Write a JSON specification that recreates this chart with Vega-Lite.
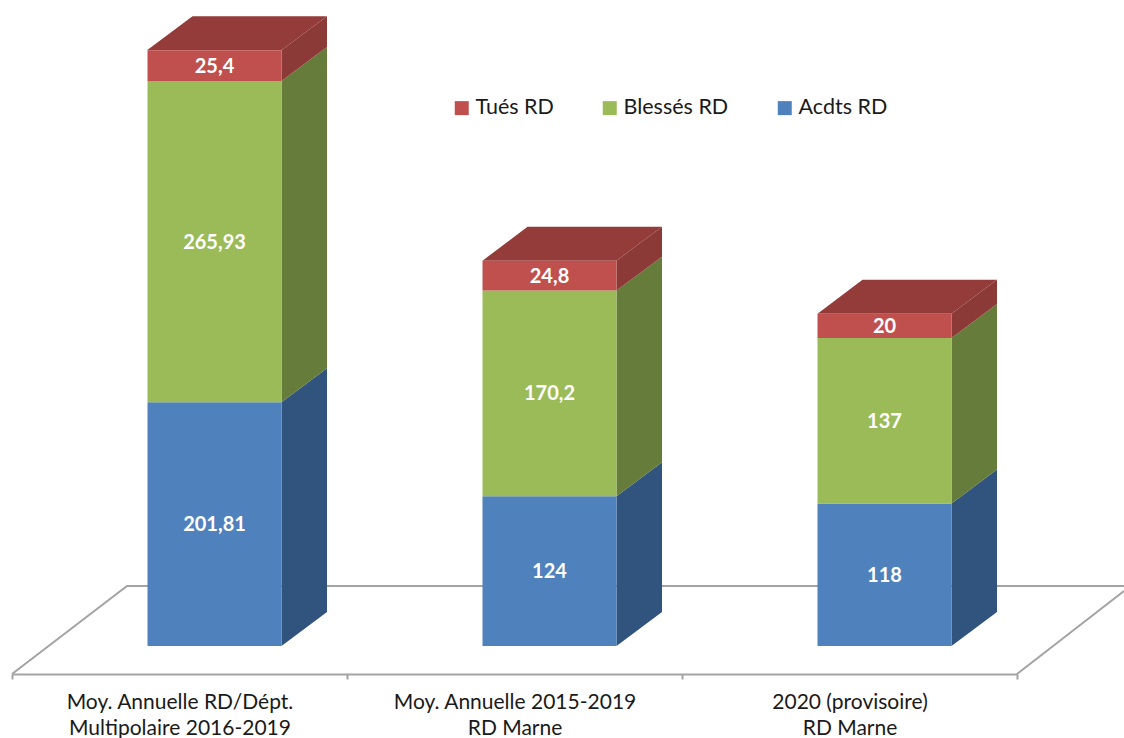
{
"$schema":"https://vega.github.io/schema/vega-lite/v6.json",
"width":1124,"height":674,
"autosize":"none",
"padding":{"left":0,"top":0,"right":0,"bottom":64},
"background":"white",
"config":{"view":{"stroke":null},"font":"Lato"},
"datasets":{
"bars":[
{"cat":"Moy. Annuelle RD/Dépt.|Multipolaire 2016-2019","serie":"Acdts RD","rang":1,"val":201.81,"txt":"201,81"},
{"cat":"Moy. Annuelle RD/Dépt.|Multipolaire 2016-2019","serie":"Blessés RD","rang":2,"val":265.93,"txt":"265,93"},
{"cat":"Moy. Annuelle RD/Dépt.|Multipolaire 2016-2019","serie":"Tués RD","rang":3,"val":25.4,"txt":"25,4"},
{"cat":"Moy. Annuelle 2015-2019|RD Marne","serie":"Acdts RD","rang":1,"val":124,"txt":"124"},
{"cat":"Moy. Annuelle 2015-2019|RD Marne","serie":"Blessés RD","rang":2,"val":170.2,"txt":"170,2"},
{"cat":"Moy. Annuelle 2015-2019|RD Marne","serie":"Tués RD","rang":3,"val":24.8,"txt":"24,8"},
{"cat":"2020 (provisoire)|RD Marne","serie":"Acdts RD","rang":1,"val":118,"txt":"118"},
{"cat":"2020 (provisoire)|RD Marne","serie":"Blessés RD","rang":2,"val":137,"txt":"137"},
{"cat":"2020 (provisoire)|RD Marne","serie":"Tués RD","rang":3,"val":20,"txt":"20"}
],
"faces":[
{"piece":"1a","face":"Acdts côté","px":281.5,"lo":0,"hi":201.81},{"piece":"1a","face":"Acdts côté","px":327,"lo":28.1,"hi":229.91},
{"piece":"1b","face":"Blessés côté","px":281.5,"lo":201.81,"hi":467.74},{"piece":"1b","face":"Blessés côté","px":327,"lo":229.91,"hi":495.84},
{"piece":"1t","face":"Tués côté","px":281.5,"lo":467.74,"hi":493.14},{"piece":"1t","face":"Tués côté","px":327,"lo":495.84,"hi":521.24},
{"piece":"1d","face":"Dessus","px":147,"lo":493.14,"hi":493.14},{"piece":"1d","face":"Dessus","px":192.5,"lo":493.14,"hi":521.24},{"piece":"1d","face":"Dessus","px":281.5,"lo":493.14,"hi":521.24},{"piece":"1d","face":"Dessus","px":327,"lo":521.24,"hi":521.24},
{"piece":"2a","face":"Acdts côté","px":616.5,"lo":0,"hi":124},{"piece":"2a","face":"Acdts côté","px":662,"lo":28.1,"hi":152.1},
{"piece":"2b","face":"Blessés côté","px":616.5,"lo":124,"hi":294.2},{"piece":"2b","face":"Blessés côté","px":662,"lo":152.1,"hi":322.3},
{"piece":"2t","face":"Tués côté","px":616.5,"lo":294.2,"hi":319},{"piece":"2t","face":"Tués côté","px":662,"lo":322.3,"hi":347.1},
{"piece":"2d","face":"Dessus","px":482.5,"lo":319,"hi":319},{"piece":"2d","face":"Dessus","px":527.5,"lo":319,"hi":347.1},{"piece":"2d","face":"Dessus","px":616.5,"lo":319,"hi":347.1},{"piece":"2d","face":"Dessus","px":662,"lo":347.1,"hi":347.1},
{"piece":"3a","face":"Acdts côté","px":951.5,"lo":0,"hi":118},{"piece":"3a","face":"Acdts côté","px":997,"lo":28.1,"hi":146.1},
{"piece":"3b","face":"Blessés côté","px":951.5,"lo":118,"hi":255},{"piece":"3b","face":"Blessés côté","px":997,"lo":146.1,"hi":283.1},
{"piece":"3t","face":"Tués côté","px":951.5,"lo":255,"hi":275},{"piece":"3t","face":"Tués côté","px":997,"lo":283.1,"hi":303.1},
{"piece":"3d","face":"Dessus","px":817.5,"lo":275,"hi":275},{"piece":"3d","face":"Dessus","px":862.5,"lo":275,"hi":303.1},{"piece":"3d","face":"Dessus","px":951.5,"lo":275,"hi":303.1},{"piece":"3d","face":"Dessus","px":997,"lo":303.1,"hi":303.1}
],
"floor":[
{"edge":"back","ord":1,"px":12,"py":-23.18},{"edge":"back","ord":2,"px":127,"py":49.67},{"edge":"back","ord":3,"px":1124,"py":49.67},
{"edge":"right","ord":1,"px":1017,"py":-23.18},{"edge":"right","ord":2,"px":1124,"py":45.5}
]
},
"resolve":{"scale":{"x":"independent"}},
"layer":[
{"data":{"name":"floor"},
 "mark":{"type":"line","color":"#a3a3a3","strokeWidth":2},
 "encoding":{
  "x":{"field":"px","type":"quantitative","scale":{"domain":[0,1124],"nice":false,"zero":false},"axis":null},
  "y":{"field":"py","type":"quantitative","scale":{"domain":[-23.18,534.77],"nice":false,"zero":false},"axis":null},
  "detail":{"field":"edge"},
  "order":{"field":"ord"}
 }},
{"data":{"name":"faces"},
 "mark":{"type":"area","interpolate":"linear"},
 "encoding":{
  "x":{"field":"px","type":"quantitative","scale":{"domain":[0,1124],"nice":false,"zero":false},"axis":null},
  "y":{"field":"lo","type":"quantitative","stack":null,"scale":{"domain":[-23.18,534.77],"nice":false,"zero":false},"axis":null},
  "y2":{"field":"hi"},
  "detail":{"field":"piece"},
  "color":{"field":"face","type":"nominal",
   "scale":{"domain":["Tués RD","Blessés RD","Acdts RD","Acdts côté","Blessés côté","Tués côté","Dessus"],"range":["#c0504d","#9bbb59","#4f81bd","#31547e","#657c3a","#8c3a38","#933c3a"]},
   "legend":{"title":null,"orient":"none","legendX":451,"legendY":97,"direction":"horizontal","values":["Tués RD","Blessés RD","Acdts RD"],"symbolType":"square","symbolSize":196,"symbolStrokeWidth":0,"labelFont":"Lato","labelFontSize":21.5,"labelColor":"#1a1a1a","labelOffset":3,"columnPadding":45,"padding":0}}
 }},
{"data":{"name":"bars"},
 "mark":{"type":"bar","xOffset":35,"width":134},
 "encoding":{
  "x":{"field":"cat","type":"nominal","sort":null,"title":null,
   "scale":{"range":[12,1017],"paddingInner":0,"paddingOuter":0},
   "axis":{"labelAngle":0,"labelExpr":"split(datum.label,'|')","labelFont":"Lato","labelFontSize":21,"labelColor":"#1a1a1a","labelLineHeight":26,"labelPadding":12,"labelBaseline":"top","labelLimit":0,"labelOverlap":false,"tickBand":"extent","tickSize":5,"tickColor":"#a3a3a3","tickWidth":2,"domainColor":"#a3a3a3","domainWidth":2,"grid":false}},
  "y":{"field":"val","type":"quantitative","stack":"zero","scale":{"domain":[-23.18,534.77],"nice":false,"zero":false},"axis":null},
  "order":{"field":"rang"},
  "color":{"field":"serie","type":"nominal"}
 }},
{"data":{"name":"bars"},
 "mark":{"type":"text","dx":35,"dy":1,"color":"white","font":"Lato","fontWeight":"bold","fontSize":20},
 "encoding":{
  "x":{"field":"cat","type":"nominal","sort":null,"scale":{"range":[12,1017],"paddingInner":0,"paddingOuter":0},"axis":null},
  "y":{"field":"val","type":"quantitative","stack":"zero","bandPosition":0.5,"scale":{"domain":[-23.18,534.77],"nice":false,"zero":false},"axis":null},
  "order":{"field":"rang"},
  "detail":{"field":"serie"},
  "text":{"field":"txt"}
 }}
]
}
